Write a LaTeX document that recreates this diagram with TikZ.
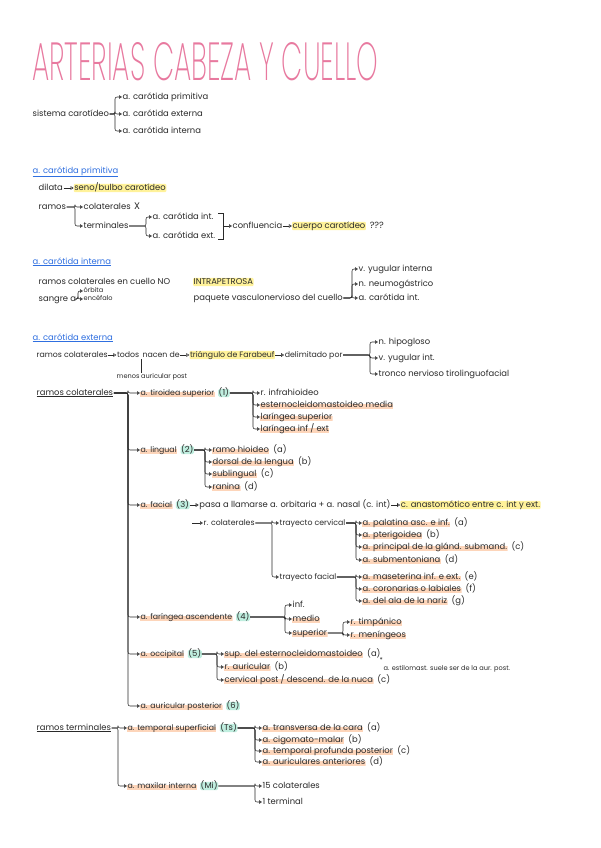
\documentclass[tikz,border=0pt]{standalone}
\usepackage{fontspec}
\usepackage{graphicx}
\setmainfont{Poppins}
\newfontfamily\titlef{Poppins}[UprightFont={* ExtraLight}]
\usetikzlibrary{arrows.meta,positioning}
\definecolor{ink}{HTML}{2A2A2A}
\definecolor{pinkt}{HTML}{E8799F}
\definecolor{headb}{HTML}{2F6FE0}
\definecolor{yel}{HTML}{FFF29A}
\definecolor{peach}{HTML}{FDD5BA}
\definecolor{mint}{HTML}{BFEEDF}
\tikzset{
 t/.style={anchor=west, inner sep=0.5pt, text height=5.8pt, text depth=1.6pt, font=\fontsize{8.4}{9}\selectfont, text=ink},
 tn/.style={font=\fontsize{7.8}{9}\selectfont},
 sm/.style={t, font=\fontsize{6.6}{7}\selectfont, text height=4.6pt, text depth=1.3pt},
 yh/.style={t, fill=yel, rounded corners=1pt},
 ph/.style={t, fill=white, path picture={\fill[peach] (path picture bounding box.south west) rectangle ([yshift=0.8pt]path picture bounding box.east);}},
 mh/.style={t, fill=mint, rounded corners=1.5pt},
 hd/.style={t, text=headb},
 arr/.style={draw=ink, line width=0.55pt, -{Triangle[open, length=3pt, width=3.6pt]}},
 br/.style={arr, rounded corners=2pt},
 ln/.style={draw=ink, line width=0.55pt},
}
\newcommand\brto[3]{\draw[br] (#1.east) -| ([xshift=-#3]#2.west) -- (#2.west);}
\newcommand\leaf[4]{\node[ph] (#1) at (#2) {#3}; \node[t, right=3pt of #1] (#1l) {#4};}
\begin{document}
\begin{tikzpicture}[x=1pt,y=-1pt]
\useasboundingbox[fill=white] (0,0) rectangle (600,848);
% title
\node[anchor=north west, inner sep=0] (title) at (32,42) {\resizebox{346pt}{38pt}{\color{pinkt}\titlef ARTERIAS CABEZA Y CUELLO}};
% sistema carotideo
\node[t] (sc) at (32,114) {sistema carotídeo};
\node[t] (s1) at (122,97) {a. carótida primitiva};
\node[t] (s2) at (122,114) {a. carótida externa};
\node[t] (s3) at (122,131) {a. carótida interna};
\brto{sc}{s1}{7pt}\brto{sc}{s2}{7pt}\brto{sc}{s3}{7pt}
% primitiva
\node[hd] (h1) at (32,171) {\underline{a. carótida primitiva}};
\node[t] (dil) at (38,188) {dilata};
\node[yh, right=10pt of dil] (seno) {seno/bulbo carotídeo};
\draw[arr] (dil) -- (seno);
\node[t] (ram) at (38,207) {ramos};
\node[t] (col) at (83,207) {colaterales};
\node[t, right=2pt of col, font=\fontsize{9.5}{10}\selectfont] (xx) {X};
\node[t] (ter) at (83,226) {terminales};
\brto{ram}{col}{8pt}\brto{ram}{ter}{8pt}
\node[t] (cint) at (152,217) {a. carótida int.};
\node[t] (cext) at (152,236) {a. carótida ext.};
\brto{ter}{cint}{6pt}\brto{ter}{cext}{6pt}
\draw[ln] (218,213) -- (223,213) -- (223,239) -- (218,239);
\coordinate (rb) at (223,226);
\node[t] (conf) at (232,226) {confluencia};
\draw[arr] (rb) -- (conf);
\node[yh, right=9pt of conf] (cuer) {cuerpo carotídeo};
\draw[arr] (conf) -- (cuer);
\node[t, right=3pt of cuer, font=\fontsize{9}{10}\selectfont] (qq) {???};
% interna
\node[hd] (h2) at (32,262) {\underline{a. carótida interna}};
\node[t] (rcc) at (38,282) {ramos colaterales en cuello NO};
\node[yh] (intra) at (193,282) {INTRAPETROSA};
\node[t] (sang) at (38,299) {sangre a};
\node[sm] (orb) at (83,291) {órbita};
\node[sm] (enc) at (83,299) {encéfalo};
\brto{sang}{orb}{5pt}\brto{sang}{enc}{5pt}
\node[t] (paq) at (193,298) {paquete vasculonervioso del cuello};
\node[t] (vy) at (358,269) {v. yugular interna};
\node[t] (nn) at (358,284) {n. neumogástrico};
\node[t] (aci) at (358,298) {a. carótida int.};
\brto{paq}{vy}{6pt}\brto{paq}{nn}{6pt}\brto{paq}{aci}{6pt}
% externa
\node[hd] (h3) at (32,338) {\underline{a. carótida externa}};
\node[t, tn] (rc0) at (36,355) {ramos colaterales};
\node[t, tn, right=8pt of rc0] (tod) {todos};
\node[t, tn, right=2pt of tod] (nac) {nacen de};
\draw[arr] (rc0) -- (tod);
\node[yh, tn, right=9pt of nac] (tri) {triángulo de Farabeuf};
\draw[arr] (nac) -- (tri);
\node[t, tn, right=9pt of tri] (del) {delimitado por};
\draw[arr] (tri) -- (del);
\node[t] (nh) at (378,342) {n. hipogloso};
\node[t] (vyi) at (378,358) {v. yugular int.};
\node[t] (tro) at (378,374) {tronco nervioso tirolinguofacial};
\brto{del}{nh}{8pt}\brto{del}{vyi}{8pt}\brto{del}{tro}{8pt}
\node[sm] (men) at (116,377) {menos auricular post};
\draw[ln] ([xshift=1pt]tod.south east) -- ([xshift=1pt]tod.south east |- men.north);
% ramos colaterales
\node[t] (rcol) at (36,393) {\underline{ramos colaterales}};
\node[ph, tn] (b1) at (140,393) {a. tiroidea superior};
\node[mh, right=3pt of b1] (n1) {(1)};
\node[ph, tn] (b2) at (140,450) {a. lingual};
\node[mh, right=3pt of b2] (n2) {(2)};
\node[ph, tn] (b3) at (140,505) {a. facial};
\node[mh, right=3pt of b3] (n3) {(3)};
\node[ph, tn] (b4) at (140,617) {a. faríngea ascendente};
\node[mh, right=3pt of b4] (n4) {(4)};
\node[ph, tn] (b5) at (140,654) {a. occipital};
\node[mh, right=3pt of b5] (n5) {(5)};
\node[ph, tn] (b6) at (140,706) {a. auricular posterior};
\node[mh, right=3pt of b6] (n6) {(6)};
\foreach \b in {b1,b2,b3,b4,b5,b6}{\brto{rcol}{\b}{12pt}}
% tiroidea
\node[t] (c1a) at (260,393) {r. infrahioideo};
\node[ph] (c1b) at (260,405) {esternocleidomastoideo media};
\node[ph] (c1c) at (260,417) {laríngea superior};
\node[ph] (c1d) at (260,429) {laríngea inf / ext};
\foreach \c in {c1a,c1b,c1c,c1d}{\brto{n1}{\c}{7pt}}
% lingual
\leaf{c2a}{212,450}{ramo hioideo}{(a)}
\leaf{c2b}{212,462}{dorsal de la lengua}{(b)}
\leaf{c2c}{212,474}{sublingual}{(c)}
\leaf{c2d}{212,487}{ranina}{(d)}
\foreach \c in {c2a,c2b,c2c,c2d}{\brto{n2}{\c}{7pt}}
% facial
\node[t, right=9pt of n3] (pas) {pasa a llamarse a. orbitaria + a. nasal (c. int)};
\draw[arr] (n3) -- (pas);
\node[yh, right=9pt of pas] (anas) {c. anastomótico entre c. int y ext.};
\draw[arr] (pas) -- (anas);
\coordinate (rcs) at (192,523);
\node[t, tn] (rco) at (203,523) {r. colaterales};
\draw[arr] (rcs) -- (rco);
\node[t, tn] (tc) at (279,523) {trayecto cervical};
\node[t, tn] (tf) at (279,577) {trayecto facial};
\brto{rco}{tc}{7pt}\brto{rco}{tf}{7pt}
\leaf{c3a}{362,523}{a. palatina asc. e inf.}{(a)}
\leaf{c3b}{362,535}{a. pterigoidea}{(b)}
\leaf{c3c}{362,547}{a. principal de la glánd. submand.}{(c)}
\leaf{c3d}{362,560}{a. submentoniana}{(d)}
\foreach \c in {c3a,c3b,c3c,c3d}{\brto{tc}{\c}{6pt}}
\leaf{c3e}{362,577}{a. maseterina inf. e ext.}{(e)}
\leaf{c3f}{362,589}{a. coronarias o labiales}{(f)}
\leaf{c3g}{362,601}{a. del ala de la nariz}{(g)}
\foreach \c in {c3e,c3f,c3g}{\brto{tf}{\c}{6pt}}
% faringea
\node[t] (c4a) at (292,605) {inf.};
\node[ph] (c4b) at (292,619) {medio};
\node[ph] (c4c) at (292,633) {superior};
\foreach \c in {c4a,c4b,c4c}{\brto{n4}{\c}{7pt}}
\node[ph] (c4d) at (350,622) {r. timpánico};
\node[ph] (c4e) at (350,635) {r. meníngeos};
\brto{c4c}{c4d}{7pt}\brto{c4c}{c4e}{7pt}
% occipital
\leaf{c5a}{224,654}{sup. del esternocleidomastoideo}{(a)}
\leaf{c5b}{224,667}{r. auricular}{(b)}
\leaf{c5c}{224,680}{cervical post / descend. de la nuca}{(c)}
\foreach \c in {c5a,c5b,c5c}{\brto{n5}{\c}{7pt}}
\node[sm] (ast) at (379,661) {*};
\node[sm] (nota) at (383,669) {a. estilomast. suele ser de la aur. post.};
% terminales
\node[t] (rter) at (36,728) {\underline{ramos terminales}};
\node[ph, tn] (ts) at (127,728) {a. temporal superficial};
\node[mh, right=3pt of ts] (tsn) {(Ts)};
\node[ph, tn] (mi) at (127,786) {a. maxilar interna};
\node[mh, right=3pt of mi] (min) {(Mi)};
\brto{rter}{ts}{9pt}\brto{rter}{mi}{9pt}
\leaf{t1}{262,728}{a. transversa de la cara}{(a)}
\leaf{t2}{262,740}{a. cigomato-malar}{(b)}
\leaf{t3}{262,751}{a. temporal profunda posterior}{(c)}
\leaf{t4}{262,762}{a. auriculares anteriores}{(d)}
\foreach \c in {t1,t2,t3,t4}{\brto{tsn}{\c}{7pt}}
\node[t] (m1) at (262,786) {15 colaterales};
\node[t] (m2) at (262,802) {1 terminal};
\brto{min}{m1}{7pt}\brto{min}{m2}{7pt}
\end{tikzpicture}
\end{document}
